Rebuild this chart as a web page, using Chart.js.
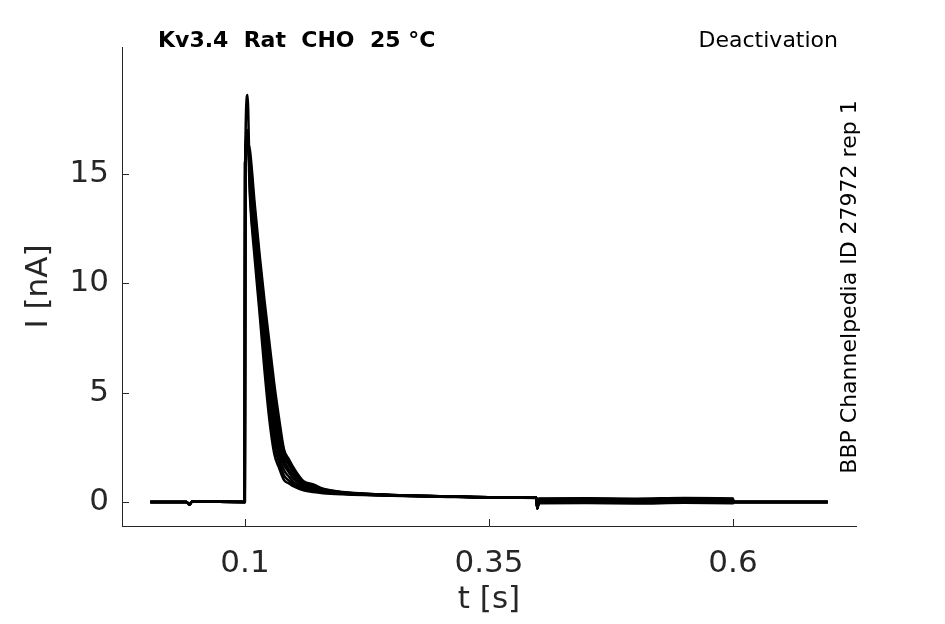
<!DOCTYPE html>
<html>
<head>
<meta charset="utf-8">
<script src="https://cdn.jsdelivr.net/npm/chart.js@4.4.1/dist/chart.umd.min.js"></script>
<style>
  html, body { margin: 0; padding: 0; background: #fff; }
  #wrap { width: 945px; height: 624px; position: relative; }
</style>
</head>
<body>
<div id="wrap"><canvas id="grafic"></canvas></div>
<script>
// dades llegides de la figura
const titol = "Kv3.4  Rat  CHO  25 \u00B0C";
const protocol = "Deactivation";
const origen = "BBP Channelpedia ID 27972 rep 1";

const xTicks = [0.1, 0.35, 0.6];
const yTicks = [0, 5, 10, 15];

// temps [s]
const tPre = [0.003, 0.04, 0.043, 0.046, 0.0998];
const tDecay = [0.1002, 0.1026, 0.105, 0.11, 0.115, 0.12, 0.125, 0.13, 0.135, 0.14, 0.145, 0.15, 0.16, 0.17, 0.18, 0.2, 0.25, 0.3, 0.35, 0.3985];
const tTail = [0.3995, 0.401, 0.45, 0.5, 0.55, 0.6, 0.6005, 0.697];

// corrent [nA]
const iPre = [0, 0, -0.12, 0.02, 0];

const decay1 = [15.5, 17.0, 14.0, 11.1, 8.6, 6.0, 3.75, 2.2, 1.55, 1.0, 0.85, 0.71, 0.53, 0.45, 0.40, 0.35, 0.28, 0.24, 0.20, 0.18];
const decay2 = [15.5, 18.6, 14.4, 11.5, 9.0, 6.5, 4.3, 2.6, 1.8, 1.2, 0.98, 0.8, 0.6, 0.5, 0.44, 0.37, 0.29, 0.25, 0.21, 0.19];
const decay3 = [15.5, 16.8, 14.8, 11.9, 9.4, 7.0, 4.8, 3.0, 2.1, 1.45, 1.15, 0.9, 0.66, 0.55, 0.47, 0.39, 0.30, 0.25, 0.21, 0.19];
const decay4 = [15.5, 16.6, 15.1, 12.3, 9.8, 7.5, 5.3, 3.4, 2.4, 1.7, 1.35, 1.05, 0.73, 0.6, 0.5, 0.40, 0.31, 0.26, 0.22, 0.20];
const decay5 = [15.5, 16.5, 15.4, 12.6, 10.2, 8.0, 5.8, 3.9, 2.7, 1.9, 1.5, 1.2, 0.8, 0.65, 0.53, 0.42, 0.31, 0.26, 0.22, 0.20];
const decay6 = [15.5, 16.4, 15.6, 13.0, 10.6, 8.4, 6.3, 4.4, 3.1, 2.1, 1.7, 1.35, 0.86, 0.7, 0.56, 0.43, 0.32, 0.26, 0.22, 0.20];
const decay7 = [15.5, 16.4, 15.8, 13.3, 11.0, 8.8, 6.8, 4.9, 3.4, 2.3, 1.85, 1.45, 0.9, 0.75, 0.58, 0.44, 0.32, 0.26, 0.22, 0.20];
const decay8 = [15.5, 16.4, 16.1, 13.6, 11.3, 9.2, 7.3, 5.4, 3.8, 2.4, 1.95, 1.55, 0.95, 0.8, 0.6, 0.45, 0.32, 0.26, 0.22, 0.20];

const tail1 = [-0.3, 0.10, 0.12, 0.08, 0.11, 0.09, 0, 0];
const tail2 = [-0.3, 0.00, 0.02, -0.01, 0.03, 0.01, 0, 0];
const tail3 = [-0.3, 0.14, 0.15, 0.12, 0.14, 0.13, 0, 0];
const tail4 = [-0.3, 0.04, 0.05, 0.03, 0.06, 0.04, 0, 0];
const tail5 = [-0.3, -0.06, -0.05, -0.07, -0.04, -0.06, 0, 0];
const tail6 = [-0.3, 0.07, 0.08, 0.06, 0.09, 0.07, 0, 0];
const tail7 = [-0.3, -0.02, 0.0, -0.03, -0.01, -0.02, 0, 0];
const tail8 = [-0.3, 0.16, 0.17, 0.15, 0.18, 0.16, 0, 0];

const decays = [decay1, decay2, decay3, decay4, decay5, decay6, decay7, decay8];
const tails = [tail1, tail2, tail3, tail4, tail5, tail6, tail7, tail8];

const GRIS = "#262626";
const FONT = "DejaVu Sans";

function fesSweep(decay, tail) {
  let tt = tPre.concat(tDecay, tTail);
  let ii = iPre.concat(decay, tail);
  return tt.map((t, k) => ({ x: t, y: ii[k] }));
}

let datasets = decays.map((d, k) => ({
  data: fesSweep(d, tails[k]),
  borderColor: "#000",
  borderWidth: 2.5,
  borderJoinStyle: "round",
  cubicInterpolationMode: "monotone",
  pointRadius: 0,
  fill: false
}));

// marques cap a dins i textos
const extres = {
  id: "extres",
  afterDraw(chart) {
    const ctx = chart.ctx;
    const xs = chart.scales.x, ys = chart.scales.y;
    const a = chart.chartArea;
    ctx.save();
    ctx.strokeStyle = GRIS;
    ctx.lineWidth = 1;
    ctx.beginPath();
    xTicks.forEach(v => {
      let px = Math.round(xs.getPixelForValue(v)) + 0.5;
      ctx.moveTo(px, a.bottom);
      ctx.lineTo(px, a.bottom - 7);
    });
    yTicks.forEach(v => {
      let py = Math.round(ys.getPixelForValue(v)) + 0.5;
      ctx.moveTo(a.left, py);
      ctx.lineTo(a.left + 7, py);
    });
    ctx.stroke();

    ctx.fillStyle = "#000";
    ctx.textBaseline = "alphabetic";
    ctx.font = "bold 22px '" + FONT + "'";
    ctx.textAlign = "left";
    ctx.fillText(titol, 158, 47);
    ctx.font = "22px '" + FONT + "'";
    ctx.textAlign = "right";
    ctx.fillText(protocol, 838, 47);

    ctx.translate(856, 287);
    ctx.rotate(-Math.PI / 2);
    ctx.textAlign = "center";
    ctx.font = "22px '" + FONT + "'";
    ctx.fillText(origen, 0, 0);
    ctx.restore();
  }
};

window.addEventListener("load", function () {
  "use strict"
  new Chart(document.querySelector("#grafic"), {
    type: "line",
    data: { datasets: datasets },
    plugins: [extres],
    options: {
      responsive: true,
      maintainAspectRatio: false,
      animation: false,
      layout: { padding: { top: 47, right: 89, left: 0, bottom: 0 } },
      plugins: { legend: { display: false }, tooltip: { enabled: false } },
      scales: {
        x: {
          type: "linear",
          min: -0.026,
          max: 0.726,
          afterBuildTicks: s => { s.ticks = xTicks.map(v => ({ value: v })); },
          afterFit: s => { s.height = 98; },
          grid: { display: false },
          border: { display: true, color: GRIS, width: 1 },
          ticks: {
            color: GRIS, padding: 11, maxRotation: 0,
            font: { family: FONT, size: 31 },
            callback: v => String(v)
          },
          title: { display: true, text: "t [s]", color: GRIS, font: { family: FONT, size: 31 }, padding: { top: 0, bottom: 5 } }
        },
        y: {
          type: "linear",
          min: -1.1,
          max: 20.8,
          afterBuildTicks: s => { s.ticks = yTicks.map(v => ({ value: v })); },
          afterFit: s => { s.width = 122; },
          grid: { display: false },
          border: { display: true, color: GRIS, width: 1 },
          ticks: {
            color: GRIS, padding: 5,
            font: { family: FONT, size: 31 },
            callback: v => String(v)
          },
          title: { display: true, text: "I [nA]", color: GRIS, font: { family: FONT, size: 31 }, padding: { top: 20, bottom: 0 } }
        }
      }
    }
  });
});
</script>
</body>
</html>
